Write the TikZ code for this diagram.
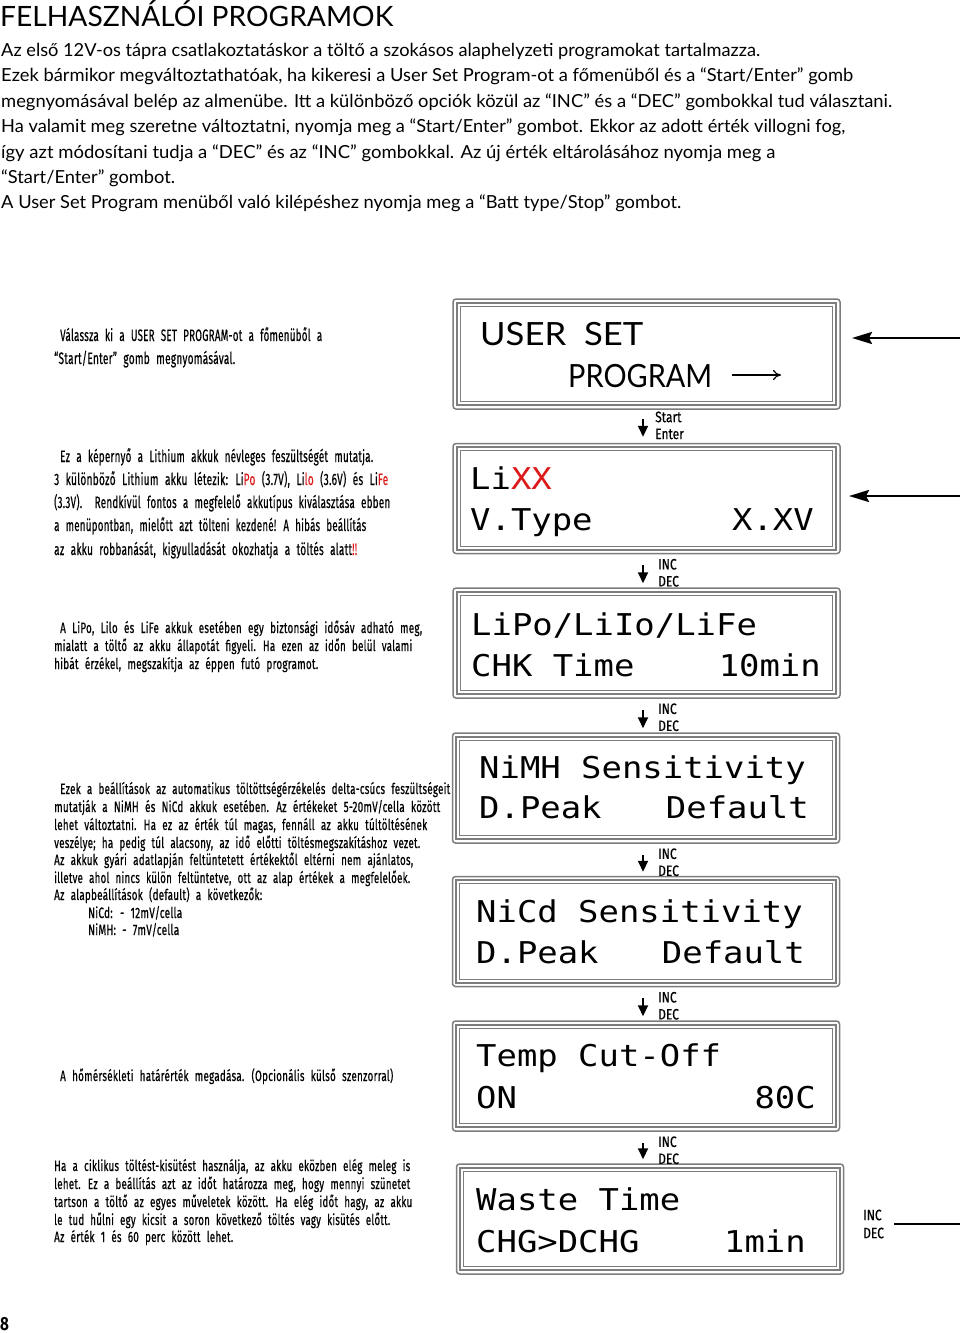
\documentclass[tikz,border=0pt]{standalone}
\usepackage{fontspec}
\usepackage{graphicx}
\usetikzlibrary{arrows.meta,calc}
\setmainfont{Lato}
\newfontfamily\condf[FakeStretch=0.72,FakeBold=0.5,WordSpace=2.2,LetterSpace=2]{Fira Sans}
\newfontfamily\keyf[FakeStretch=0.8,FakeBold=0.4]{Fira Sans}
\newfontfamily\condb[FakeStretch=0.8]{Fira Sans Bold}
\newfontfamily\lcdf[FakeStretch=1.13]{DejaVu Sans Mono}
\definecolor{warnred}{RGB}{220,25,25}
\definecolor{framegray}{RGB}{125,125,125}
\newcommand\fl[2]{\resizebox{#1pt}{\height}{#2}}
\newcommand\rd[1]{\textcolor{warnred}{#1}}
\begin{document}
\begin{tikzpicture}[x=1pt,y=-1pt,
  toptext/.style={anchor=base west,inner sep=0pt,font=\fontsize{18}{20}\selectfont},
  headtext/.style={anchor=base west,inner sep=0pt,font=\fontsize{28}{30}\selectfont},
  sidebig/.style={anchor=base west,inner sep=0pt,font=\condf\fontsize{16.5}{18}\selectfont},
  side/.style={anchor=base west,inner sep=0pt,font=\condf\fontsize{15}{17}\selectfont},
  lcd/.style={anchor=base west,inner sep=0pt,font=\lcdf\fontsize{30}{32}\selectfont},
  lcdr/.style={anchor=base east,inner sep=0pt,font=\lcdf\fontsize{30}{32}\selectfont},
  lcdbox/.style={draw=framegray,line width=1.5pt,rounded corners=3pt,minimum width=387pt,minimum height=110pt,inner sep=0pt},
  keylabel/.style={anchor=west,inner sep=0pt,font=\keyf\fontsize{15}{16}\selectfont},
  downarr/.style={line width=2pt,-{Triangle[length=11pt,width=10pt]}},
  bigarr/.style={line width=2.5pt,-{Stealth[length=20pt,width=12pt,inset=3pt]}},
  openarr/.style={line width=1.2pt,-{To[length=8pt,width=10pt]}}
]
\useasboundingbox (0,0) rectangle (960,1333);
\fill[white] (0,0) rectangle (960,1333);

% ---- heading and intro text
\node[headtext] (head) at (0,27) {\fl{393}{FELHASZNÁLÓI PROGRAMOK}};
\node[toptext] (p1) at (1,56) {\fl{759}{Az első 12V-os tápra csatlakoztatáskor a töltő a szokásos alaphelyzeti programokat tartalmazza.}};
\node[toptext] (p2) at (1,81) {\fl{852}{Ezek bármikor megváltoztathatóak, ha kikeresi a User Set Program-ot a főmenüből és a “Start/Enter” gomb}};
\node[toptext] (p3) at (1,107) {\fl{891}{megnyomásával belép az almenübe. Itt a különböző opciók közül az “INC” és a “DEC” gombokkal tud választani.}};
\node[toptext] (p4) at (1,132) {\fl{844}{Ha valamit meg szeretne változtatni, nyomja meg a “Start/Enter” gombot. Ekkor az adott érték villogni fog,}};
\node[toptext] (p5) at (1,158) {\fl{774}{így azt módosítani tudja a “DEC” és az “INC” gombokkal. Az új érték eltárolásához nyomja meg a}};
\node[toptext] (p6) at (1,183) {\fl{174}{“Start/Enter” gombot.}};
\node[toptext] (p7) at (1,208) {\fl{680}{A User Set Program menüből való kilépéshez nyomja meg a “Batt type/Stop” gombot.}};

% ---- side descriptions
\node[sidebig] (a1) at (60,341) {\fl{262}{Válassza ki a USER SET PROGRAM-ot a főmenüből a}};
\node[sidebig] (a2) at (54,364) {\fl{181}{“Start/Enter” gomb megnyomásával.}};

\node[sidebig] (b1t) at (60,462) {\fl{313}{Ez a képernyő a Lithium akkuk névleges feszültségét mutatja.}};
\node[sidebig] (b2t) at (54,485) {\fl{334}{3 különböző Lithium akku létezik: Li\rd{Po} (3.7V), Li\rd{lo} (3.6V) és Li\rd{Fe}}};
\node[sidebig] (b3t) at (54,508) {\fl{336}{(3.3V).\ \ Rendkívül fontos a megfelelő akkutípus kiválasztása ebben}};
\node[sidebig] (b4t) at (54,531) {\fl{312}{a menüpontban, mielőtt azt tölteni kezdené! A hibás beállítás}};
\node[sidebig] (b5t) at (54,555) {\fl{303}{az akku robbanását, kigyulladását okozhatja a töltés alatt\rd{!!}}};

\node[side] (c1) at (60,633) {\fl{362}{A LiPo, Lilo és LiFe akkuk esetében egy biztonsági idősáv adható meg,}};
\node[side] (c2) at (54,651) {\fl{358}{mialatt a töltő az akku állapotát figyeli. Ha ezen az időn belül valami}};
\node[side] (c3) at (54,669) {\fl{264}{hibát érzékel, megszakítja az éppen futó programot.}};

\node[side] (d1) at (60,794) {\fl{390}{Ezek a beállítások az automatikus töltöttségérzékelés delta-csúcs feszültségeit}};
\node[side] (d2) at (54,812) {\fl{386}{mutatják a NiMH és NiCd akkuk esetében. Az értékeket 5-20mV/cella között}};
\node[side] (d3) at (54,830) {\fl{373}{lehet változtatni. Ha ez az érték túl magas, fennáll az akku túltöltésének}};
\node[side] (d4) at (54,848) {\fl{366}{veszélye; ha pedig túl alacsony, az idő előtti töltésmegszakításhoz vezet.}};
\node[side] (d5) at (54,865) {\fl{359}{Az akkuk gyári adatlapján feltüntetett értékektől eltérni nem ajánlatos,}};
\node[side] (d6) at (54,883) {\fl{356}{illetve ahol nincs külön feltüntetve, ott az alap értékek a megfelelőek.}};
\node[side] (d7) at (54,900) {\fl{208}{Az alapbeállítások (default) a következők:}};
\node[side] (d8) at (88,918) {\fl{94}{NiCd: - 12mV/cella}};
\node[side] (d9) at (88,935) {\fl{91}{NiMH: - 7mV/cella}};

\node[side] (e1) at (60,1081) {\fl{333}{A hőmérsékleti határérték megadása. (Opcionális külső szenzorral)}};

\node[side] (f1) at (54,1171) {\fl{356}{Ha a ciklikus töltést-kisütést használja, az akku eközben elég meleg is}};
\node[side] (f2) at (54,1189) {\fl{356}{lehet. Ez a beállítás azt az időt határozza meg, hogy mennyi szünetet}};
\node[side] (f3) at (54,1207) {\fl{358}{tartson a töltő az egyes műveletek között. Ha elég időt hagy, az akku}};
\node[side] (f4) at (54,1225) {\fl{336}{le tud hűlni egy kicsit a soron következő töltés vagy kisütés előtt.}};
\node[side] (f5) at (54,1242) {\fl{179}{Az érték 1 és 60 perc között lehet.}};

% ---- LCD boxes
\node[lcdbox] (s1) at (646.5,354) {};
\node[lcdbox] (s2) at (646.5,498.5) {};
\node[lcdbox] (s3) at (646.5,643) {};
\node[lcdbox] (s4) at (646,788) {};
\node[lcdbox] (s5) at (646,931.5) {};
\node[lcdbox] (s6) at (646,1076) {};
\node[lcdbox] (s7) at (650,1219) {};
\foreach \b in {s1,s2,s3,s4,s5,s6,s7}{
  \draw[framegray,line width=2.4pt] ($(\b.north west)+(4.5,4.5)$) rectangle ($(\b.south east)+(-4.5,-4.5)$);
  \draw[framegray,line width=0.9pt] ($(\b.north west)+(8,8)$) rectangle ($(\b.south east)+(-8,-8)$);
}

% ---- LCD texts
\node[anchor=base west,inner sep=0pt,font=\fontsize{32}{34}\selectfont] (u1) at (480,345) {\fl{163}{USER\ \ SET}};
\node[anchor=base west,inner sep=0pt,font=\fontsize{32}{34}\selectfont] (u2) at (568,387) {\fl{144}{PROGRAM}};
\coordinate (pa1) at (732,375);
\coordinate (pa2) at (781,375);
\draw[openarr] (pa1) -- (pa2);

\node[lcd] (l2a) at (470,489) {Li\textcolor{warnred}{XX}};
\node[lcd] (l2b) at (470,530) {V.Type};
\node[lcdr] (l2c) at (814,530) {X.XV};

\node[lcd] (l3a) at (471,635) {LiPo/LiIo/LiFe};
\node[lcd] (l3b) at (471,676) {CHK Time};
\node[lcdr] (l3c) at (821,676) {10min};

\node[lcd] (l4a) at (479,778) {NiMH Sensitivity};
\node[lcd] (l4b) at (479,818) {D.Peak};
\node[lcdr] (l4c) at (809,818) {Default};

\node[lcd] (l5a) at (476,922) {NiCd Sensitivity};
\node[lcd] (l5b) at (476,963) {D.Peak};
\node[lcdr] (l5c) at (805,963) {Default};

\node[lcd] (l6a) at (476,1066) {Temp Cut-Off};
\node[lcd] (l6b) at (476,1108) {ON};
\node[lcdr] (l6c) at (816,1108) {80C};

\node[lcd] (l7a) at (476,1210) {Waste Time};
\node[lcd] (l7b) at (476,1252) {CHG>DCHG};
\node[lcdr] (l7c) at (806,1252) {1min};

% ---- down arrows with key labels
\coordinate (ax) at (643,0);
\draw[downarr] ($(s1.south -| ax)+(0,9)$) -- ($(s2.north -| ax)+(0,-6)$);
\node[keylabel] (k1a) at (655,417) {Start};
\node[keylabel] (k1b) at (655,434) {Enter};
\foreach \a/\b [count=\i] in {s2/s3,s3/s4,s4/s5,s5/s6,s6/s7}{
  \draw[downarr] ($(\a.south -| ax)+(0,11)$) -- ($(\b.north -| ax)+(0,-4)$);
  \node[keylabel] (inc\i) at ($(\a.south -| ax)+(15,10)$) {INC};
  \node[keylabel] (dec\i) at ($(\a.south -| ax)+(15,27)$) {DEC};
}

% ---- right side arrows
\coordinate (r1) at (961,338);
\coordinate (t1) at (852,338);
\draw[bigarr] (r1) -- (t1);
\coordinate (r2) at (961,496);
\coordinate (t2) at (849,496);
\draw[bigarr] (r2) -- (t2);
\node[keylabel] (incx) at (863,1215) {INC};
\node[keylabel] (decx) at (863,1233) {DEC};
\coordinate (r3) at (961,1224);
\coordinate (t3) at (894,1224);
\draw[line width=2.4pt] (t3) -- (r3);

% ---- page number
\node[anchor=base west,inner sep=0pt,font=\condb\fontsize{19}{20}\selectfont] (pg) at (0,1330) {8};
\end{tikzpicture}
\end{document}
